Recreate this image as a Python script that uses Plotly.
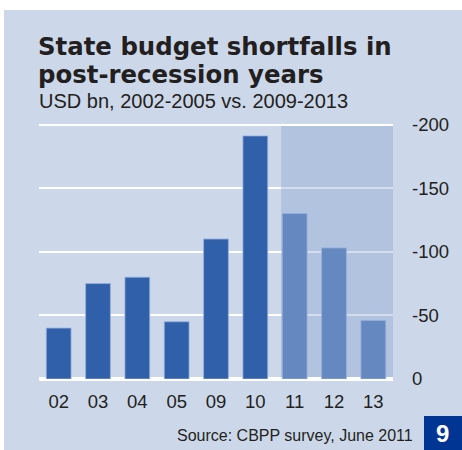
import plotly.graph_objects as go

# State budget shortfalls, USD bn (negative = shortfall)
years = ["02", "03", "04", "05", "09", "10", "11", "12", "13"]
shortfalls = [-40, -75, -80, -45, -110, -191, -130, -103, -46]
projected = [False, False, False, False, False, False, True, True, True]
y_ticks = [0, -50, -100, -150, -200]
y_tick_labels = ["0", "-50", "-100", "-150", "-200"]

W, H = 462, 450
PLOT_L, PLOT_R = 39, 393
PLOT_T, PLOT_B = 110, 379

PANEL = "#ccd8e9"
DARK_BAR = "#3160ab"
LIGHT_BAR = "#6588c1"
BADGE = "#003594"
TEXT = "#231f20"
TITLE_FONT = "DejaVu Sans, Arial Black, sans-serif"
BODY_FONT = "Liberation Sans, Arial, sans-serif"


def px_x(px):
    return (px - PLOT_L) / (PLOT_R - PLOT_L)


def px_y(py):
    return (PLOT_B - py) / (PLOT_B - PLOT_T)


# y range chosen so that 0 sits at the bottom edge and -200 a little below the top
units_per_px = 200 / (PLOT_B - 124.5)
y_top = -(PLOT_B - PLOT_T) * units_per_px

bar_width = 0.63
colors = [LIGHT_BAR if p else DARK_BAR for p in projected]

fig = go.Figure()
fig.add_trace(go.Bar(
    x=years,
    y=shortfalls,
    width=bar_width,
    marker=dict(color=colors, line=dict(color="rgba(150,175,220,0.8)", width=1)),
    hoverinfo="x+y",
))

first_proj = projected.index(True)
shapes = [
    # background panel
    dict(type="rect", xref="paper", yref="paper", layer="below",
         x0=px_x(4), x1=px_x(W + 5), y0=px_y(H + 5), y1=px_y(10),
         fillcolor=PANEL, line=dict(width=0)),
    # shaded projection period
    dict(type="rect", xref="x", yref="y", layer="between",
         x0=first_proj - bar_width / 2 - 0.03, x1=len(years) - 0.5,
         y0=-1.6, y1=-198.9,
         fillcolor="rgba(129,158,206,0.35)", line=dict(width=0)),
    # page-number badge
    dict(type="rect", xref="paper", yref="paper", layer="above",
         x0=px_x(424), x1=px_x(W + 5), y0=px_y(H + 5), y1=px_y(416),
         fillcolor=BADGE, line=dict(width=0)),
]

annotations = [
    dict(text="<b>State budget shortfalls in</b>", x=px_x(36), y=px_y(46.5),
         xanchor="left", yanchor="middle",
         font=dict(family=TITLE_FONT, size=24.4, color=TEXT)),
    dict(text="<b>post-recession years</b>", x=px_x(36), y=px_y(75),
         xanchor="left", yanchor="middle",
         font=dict(family=TITLE_FONT, size=24.4, color=TEXT)),
    dict(text="USD bn, 2002-2005 vs. 2009-2013", x=px_x(37), y=px_y(100.5),
         xanchor="left", yanchor="middle",
         font=dict(family=BODY_FONT, size=20, color=TEXT)),
    dict(text="Source: CBPP survey, June 2011", x=px_x(415), y=px_y(435),
         xanchor="right", yanchor="middle",
         font=dict(family=BODY_FONT, size=16, color=TEXT)),
    dict(text="<b>9</b>", x=px_x(442), y=px_y(434),
         xanchor="center", yanchor="middle",
         font=dict(family=BODY_FONT, size=24, color="white")),
]
for a in annotations:
    a.update(xref="paper", yref="paper", showarrow=False)

fig.update_layout(
    width=W, height=H,
    margin=dict(l=PLOT_L, r=W - PLOT_R, t=PLOT_T, b=H - PLOT_B, pad=0),
    paper_bgcolor="white",
    plot_bgcolor="rgba(0,0,0,0)",
    showlegend=False,
    shapes=shapes,
    annotations=annotations,
    xaxis=dict(
        type="category", range=[-0.5, len(years) - 0.5],
        showgrid=False, zeroline=False, showline=False, ticks="",
        ticklabelstandoff=9,
        tickfont=dict(family=BODY_FONT, size=18.5, color=TEXT),
    ),
    yaxis=dict(
        range=[0, y_top], side="right",
        tickvals=y_ticks, ticktext=y_tick_labels,
        showgrid=True, gridcolor="white", gridwidth=2,
        zeroline=True, zerolinecolor="white", zerolinewidth=4,
        showline=False, ticks="", ticklabelstandoff=18,
        tickfont=dict(family=BODY_FONT, size=18.5, color=TEXT),
    ),
)

fig.write_html("out.html")
